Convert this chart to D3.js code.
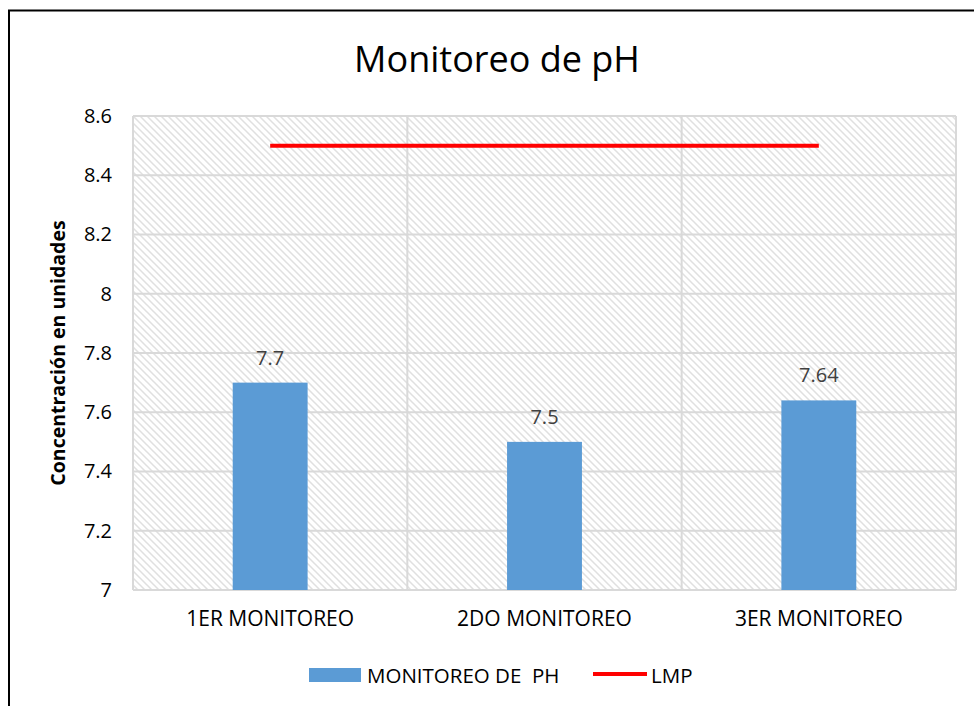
<!DOCTYPE html>
<html lang="es">
  <head>
    <meta charset="utf-8">
    <title>Monitoreo de pH</title>
    <script src="https://d3js.org/d3.v7.min.js"></script>
    <style>
      body { margin: 0; background: #fff; }
      text { font-family: "Open Sans", "Noto Sans", sans-serif; }
    </style>
  </head>
  <body>
    <script>
      var w = 974;
      var h = 706;
      var margin = {top: 116, right: 18, bottom: 116, left: 133};

      var categories = ["1ER MONITOREO", "2DO MONITOREO", "3ER MONITOREO"];
      var phValues = [7.7, 7.5, 7.64];
      var lmpValues = [8.5, 8.5, 8.5];
      var yTicks = [7, 7.2, 7.4, 7.6, 7.8, 8, 8.2, 8.4, 8.6];

      var svg = d3.select("body")
          .append("svg")
          .attr("width", w)
          .attr("height", h);

      // hatch fill for plot area
      var defs = svg.append("defs");
      var pat = defs.append("pattern")
          .attr("id", "hatch")
          .attr("patternUnits", "userSpaceOnUse")
          .attr("width", 7)
          .attr("height", 7);
      pat.append("rect").attr("width", 7).attr("height", 7).attr("fill", "#fff");
      pat.append("path")
          .attr("d", "M-1,-1 L8,8 M-1,6 L1,8 M6,-1 L8,1")
          .attr("stroke", "#e0e0e0")
          .attr("stroke-width", 1.5);

      // outer border (top and left only visible)
      svg.append("path")
          .attr("d", "M9,706 L9,10.5 L974,10.5")
          .attr("fill", "none")
          .attr("stroke", "#000")
          .attr("stroke-width", 2);

      var innerW = w - margin.left - margin.right;
      var innerH = h - margin.top - margin.bottom;

      var g = svg.append("g")
          .attr("transform", "translate(" + margin.left + "," + margin.top + ")");

      var x = d3.scaleBand()
          .domain(categories)
          .range([0, innerW])
          .paddingInner(0)
          .paddingOuter(0);

      var y = d3.scaleLinear()
          .domain([7, 8.6])
          .range([innerH, 0]);

      g.append("rect")
          .attr("width", innerW)
          .attr("height", innerH)
          .attr("fill", "url(#hatch)");

      // horizontal gridlines
      g.selectAll("line.hgrid")
          .data(yTicks)
          .enter()
          .append("line")
          .attr("class", "hgrid")
          .attr("x1", 0)
          .attr("x2", innerW)
          .attr("y1", d => y(d))
          .attr("y2", d => y(d))
          .attr("stroke", "#d9d9d9")
          .attr("stroke-width", 2);

      // vertical gridlines at category boundaries
      var bounds = categories.map(c => x(c)).concat([innerW]);
      g.selectAll("line.vgrid")
          .data(bounds)
          .enter()
          .append("line")
          .attr("class", "vgrid")
          .attr("x1", d => d)
          .attr("x2", d => d)
          .attr("y1", 0)
          .attr("y2", innerH)
          .attr("stroke", "#d9d9d9")
          .attr("stroke-width", 2);

      var barW = x.bandwidth() * 0.273;

      g.selectAll("rect.bar")
          .data(phValues)
          .enter()
          .append("rect")
          .attr("class", "bar")
          .attr("x", (d, i) => x(categories[i]) + x.bandwidth() / 2 - barW / 2)
          .attr("y", d => y(d))
          .attr("width", barW)
          .attr("height", d => y(7) - y(d))
          .attr("fill", "#5b9bd5");

      g.selectAll("text.val")
          .data(phValues)
          .enter()
          .append("text")
          .attr("class", "val")
          .attr("x", (d, i) => x(categories[i]) + x.bandwidth() / 2)
          .attr("y", d => y(d) - 18)
          .attr("text-anchor", "middle")
          .attr("font-size", 20)
          .attr("fill", "#404040")
          .text(d => d);

      // LMP line
      var line = d3.line()
          .x((d, i) => x(categories[i]) + x.bandwidth() / 2)
          .y(d => y(d));

      g.append("path")
          .datum(lmpValues)
          .attr("d", line)
          .attr("fill", "none")
          .attr("stroke", "#ff0000")
          .attr("stroke-width", 4);

      // axes
      var yAxis = d3.axisLeft(y)
          .tickValues(yTicks)
          .tickSize(0)
          .tickPadding(21)
          .tickFormat(d => d3.format("")(+d.toFixed(1)));

      var ya = g.append("g").call(yAxis);
      ya.select(".domain").remove();
      ya.selectAll("text")
          .attr("font-size", 20)
          .attr("fill", "#000")
          .style("font-family", "'Open Sans', sans-serif");

      var xAxis = d3.axisBottom(x).tickSize(0).tickPadding(21);
      var xa = g.append("g")
          .attr("transform", "translate(0," + innerH + ")")
          .call(xAxis);
      xa.select(".domain").remove();
      xa.selectAll("text")
          .attr("font-size", 21)
          .attr("fill", "#000")
          .style("font-family", "'Open Sans', sans-serif");

      // title
      svg.append("text")
          .attr("x", 497)
          .attr("y", 72)
          .attr("text-anchor", "middle")
          .attr("font-size", 36)
          .attr("fill", "#000")
          .text("Monitoreo de pH");

      // y axis title
      svg.append("text")
          .attr("transform", "translate(65," + (margin.top + innerH / 2) + ") rotate(-90)")
          .attr("text-anchor", "middle")
          .attr("font-size", 19.5)
          .attr("font-weight", "bold")
          .attr("fill", "#000")
          .text("Concentración en unidades");

      // legend
      var legend = svg.append("g");
      legend.append("rect")
          .attr("x", 309)
          .attr("y", 668)
          .attr("width", 52)
          .attr("height", 14)
          .attr("fill", "#5b9bd5");
      legend.append("text")
          .attr("x", 367)
          .attr("y", 683)
          .attr("font-size", 20.5)
          .attr("fill", "#000")
          .attr("xml:space", "preserve")
          .text("MONITOREO DE  PH");
      legend.append("line")
          .attr("x1", 593)
          .attr("x2", 647)
          .attr("y1", 674)
          .attr("y2", 674)
          .attr("stroke", "#ff0000")
          .attr("stroke-width", 4);
      legend.append("text")
          .attr("x", 651)
          .attr("y", 683)
          .attr("font-size", 20.5)
          .attr("fill", "#000")
          .text("LMP");
    </script>
  </body>
</html>
